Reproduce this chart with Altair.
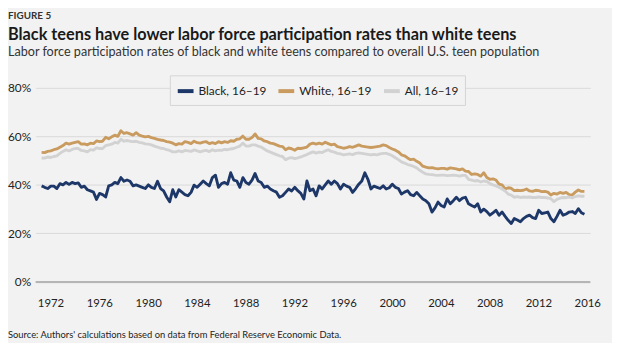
import altair as alt
import pandas as pd

# Quarterly readings (Jan 1972 .. mid 2016), labor force participation rate, %
black = [
    39.6, 39.0, 38.5, 39.5,  39.5, 38.5, 40.5, 40.0,  41.0, 40.2, 41.0, 40.5,
    40.8, 39.0, 39.5, 38.0,  37.5, 37.0, 34.0, 36.5,  36.0, 35.0, 39.6, 40.0,
    41.0, 40.5, 43.0, 41.5,  42.0, 41.5, 39.6, 40.0,  39.5, 39.0, 38.5, 40.0,
    39.0, 38.5, 41.5, 38.5,  37.5, 35.0, 33.0, 38.0,  35.0, 38.0, 37.0, 36.0,
    35.5, 36.9, 39.9, 39.0,  40.3, 41.6, 40.5, 39.6,  43.0, 44.0, 39.0, 40.5,
    41.0, 40.3, 45.0, 42.0,  41.6, 39.0, 43.0, 41.0,  40.3, 42.0, 44.7, 41.6,
    41.0, 39.0, 39.5, 38.3,  37.6, 37.0, 34.9, 35.5,  36.9, 38.3, 37.5, 39.0,
    37.6, 36.5, 34.2, 41.6,  37.6, 38.3, 35.5, 39.6,  38.3, 40.0, 41.6, 40.3,
    41.6, 40.5, 38.3, 40.3,  39.5, 39.0, 36.9, 38.5,  40.3, 41.6, 45.0, 42.3,
    38.3, 39.5, 39.0, 38.5,  39.6, 38.3, 38.8, 40.3,  39.0, 38.5, 36.2, 37.0,
    37.6, 36.0, 35.5, 36.9,  35.5, 34.2, 33.5, 32.2,  28.8, 30.5, 32.9, 31.5,
    30.9, 34.2, 32.2, 33.5,  34.9, 33.5, 34.5, 34.9,  32.2, 31.5, 30.9, 32.2,
    28.8, 30.0, 29.0, 27.5,  28.5, 29.5, 27.5, 28.8,  27.0, 25.4, 24.1, 26.1,
    25.5, 24.8, 26.1, 27.0,  27.5, 26.5, 26.1, 29.5,  28.2, 28.5, 28.8, 26.1,
    24.8, 27.0, 29.5, 27.5,  28.0, 28.8, 29.0, 28.2,  30.2, 28.5, 27.9,
]
white = [
    53.4, 53.3, 53.8, 54.0,  54.5, 54.8, 55.5, 56.2,  57.2, 56.8, 57.2, 57.5,
    57.8, 56.8, 56.9, 56.5,  57.2, 57.0, 58.1, 57.8,  58.0, 59.6, 59.0, 59.8,
    60.5, 60.0, 62.3, 61.2,  61.5, 61.0, 60.5, 61.5,  60.5, 60.1, 59.8, 60.0,
    59.5, 59.2, 58.8, 58.5,  58.3, 57.8, 57.6, 57.2,  56.5, 57.0, 56.8, 57.8,
    57.5, 57.0, 58.0, 57.4,  57.2, 57.6, 57.8, 57.0,  57.4, 57.0, 57.8, 57.3,
    57.8, 57.5, 58.2, 58.0,  58.8, 59.0, 60.1, 58.8,  58.8, 59.5, 61.0, 59.2,
    59.0, 58.1, 57.8, 57.2,  57.0, 56.5, 56.0, 55.8,  54.5, 55.2, 54.9, 54.3,
    55.1, 55.0, 55.3, 55.6,  56.8, 57.2, 56.8, 57.2,  56.8, 57.6, 57.0, 56.5,
    56.8, 55.8, 55.5, 55.1,  55.4, 55.8, 55.5, 56.0,  56.5, 56.0, 55.8, 55.6,
    55.4, 55.6, 55.8, 56.0,  56.5, 56.2, 55.4, 54.8,  54.3, 53.6, 52.4, 52.0,
    51.1, 50.4, 50.6, 49.7,  49.0, 47.7, 47.3, 47.0,  47.1, 46.8, 46.6, 46.8,
    46.8, 46.5, 47.0, 46.8,  46.6, 46.2, 46.6, 45.7,  45.5, 44.3, 44.5, 44.3,
    43.6, 45.0, 43.0, 42.3,  42.5, 42.0, 40.3, 40.0,  38.3, 38.8, 38.6, 37.6,
    37.8, 37.6, 37.8, 38.3,  37.5, 37.3, 37.8, 37.6,  37.2, 37.3, 37.0, 35.8,
    36.5, 36.2, 36.9, 36.5,  36.9, 36.0, 35.8, 37.0,  37.9, 37.3, 37.3,
]
all_teens = [
    51.1, 51.0, 51.5, 51.3,  51.7, 52.0, 53.0, 53.8,  54.5, 54.0, 54.6, 55.0,
    55.0, 54.2, 54.0, 53.6,  54.5, 54.3, 55.3, 55.0,  55.0, 56.2, 56.5, 56.8,
    57.5, 57.2, 58.8, 58.0,  58.3, 58.0, 57.8, 58.0,  57.5, 57.3, 56.9, 56.8,
    56.5, 56.0, 55.6, 55.1,  55.0, 54.5, 54.2, 53.6,  53.6, 54.0, 53.6, 54.2,
    54.0, 53.8, 54.4, 54.0,  53.6, 54.0, 54.2, 53.7,  54.5, 54.0, 54.3, 54.2,
    54.6, 54.5, 54.8, 55.0,  55.5, 56.0, 57.2, 56.0,  56.0, 56.5, 56.5, 56.0,
    55.6, 54.8, 54.0, 53.5,  53.0, 52.5, 52.0, 51.7,  50.4, 51.0, 51.2, 50.8,
    51.1, 51.5, 52.0, 52.5,  53.1, 53.6, 53.1, 53.5,  53.3, 54.0, 54.5, 53.8,
    53.5, 53.0, 52.8, 52.4,  52.6, 52.8, 52.5, 53.0,  53.2, 53.0, 52.8, 52.6,
    52.4, 52.6, 52.4, 52.8,  53.0, 53.0, 52.6, 52.0,  51.2, 50.4, 49.5, 49.0,
    48.4, 48.0, 47.6, 47.0,  46.0, 45.2, 44.5, 44.3,  44.2, 44.0, 43.9, 44.0,
    44.0, 43.8, 43.9, 44.0,  43.9, 43.6, 43.9, 43.9,  42.3, 42.0, 41.6, 41.8,
    41.2, 41.6, 41.4, 40.6,  40.0, 39.6, 39.0, 38.3,  37.5, 36.2, 35.8, 34.9,
    35.2, 34.8, 35.0, 34.9,  35.0, 34.8, 34.8, 35.0,  34.8, 34.8, 34.6, 34.3,
    33.1, 34.0, 34.5, 34.8,  34.7, 35.0, 34.6, 35.2,  35.5, 35.3, 35.3,
]

series_names = ["Black, 16\u201319", "White, 16\u201319", "All, 16\u201319"]
series_colors = ["#1d3768", "#c99b5f", "#d2d2d2"]
year_ticks = list(range(1972, 2017, 4))
pct_ticks = [0, 20, 40, 60, 80]

figure_label = "FIGURE 5"
title_text = "Black teens have lower labor force participation rates than white teens"
subtitle_text = "Labor force participation rates of black and white teens compared to overall U.S. teen population"
source_text = "Source: Authors' calculations based on data from Federal Reserve Economic Data."

rows = []
for name, vals in zip(series_names, [black, white, all_teens]):
    for i, v in enumerate(vals):
        rows.append({"series": name, "t": 1972 + i / 4, "v": v, "order": i})
df = pd.DataFrame(rows)

FONT = "Lato"

lines = alt.Chart(df).mark_line(strokeWidth=2.9, strokeJoin="round").encode(
    x=alt.X("t:Q", title=None,
            scale=alt.Scale(domain=[1971.51, 2016.98], nice=False, zero=False),
            axis=alt.Axis(values=year_ticks, format="d", grid=False, ticks=False, tickSize=0,
                          domain=False, labelOffset=9, labelPadding=22, labelBaseline="middle",
                          labelFontSize=11.5, labelColor="#222222", labelFont=FONT)),
    y=alt.Y("v:Q", title=None,
            scale=alt.Scale(domain=[0, 80], nice=False),
            axis=alt.Axis(values=pct_ticks, labelExpr="datum.value + '%'", grid=True,
                          gridColor="#d9d9d9", gridWidth=1, ticks=False, tickSize=0, domain=False,
                          labelPadding=5, labelFontSize=12, labelColor="#222222", labelFont=FONT)),
    color=alt.Color("series:N",
                    scale=alt.Scale(domain=series_names, range=series_colors),
                    legend=alt.Legend(orient="none", legendX=136, legendY=-12.7, direction="horizontal",
                                      title=None, symbolType="stroke", symbolStrokeWidth=4,
                                      symbolSize=256, labelFontSize=12, labelFont=FONT,
                                      labelColor="#222222", fillColor="#f2f2f2", strokeColor="#d4d4d4",
                                      padding=6, columnPadding=4, labelOffset=3, gridAlign="none")),
    order="order:Q",
)

zero_line = alt.Chart(pd.DataFrame({"z": [0]})).mark_rule(color="#b5b5b5", strokeWidth=2).encode(
    y=alt.Y("z:Q")
)

def text_layer(text, x, y, size, weight="normal", color="#222222", baseline="middle"):
    return alt.Chart(pd.DataFrame({"label": [text]})).mark_text(
        align="left", baseline=baseline, fontSize=size, fontWeight=weight, font=FONT, color=color
    ).encode(x=alt.value(x), y=alt.value(y), text="label:N")

chart = alt.layer(
    zero_line,
    lines,
    text_layer(figure_label, -28, -72.5, 10, "bold", "#333333"),
    text_layer(title_text, -28, -53.5, 16.5, "bold", "#1a1a1a"),
    text_layer(subtitle_text, -28, -36.5, 12.75, "normal", "#333333"),
    text_layer(source_text, -28, 253.5, 9.5, "normal", "#222222", "alphabetic"),
).properties(
    width=562, height=196.6,
    autosize=alt.AutoSizeParams(type="none"),
    padding={"left": 28, "top": 78.7, "right": 22, "bottom": 59.7},
    background="#f2f2f2",
).configure_view(stroke=None)

chart.save("out.html", embed_options={"renderer": "svg", "actions": False})
